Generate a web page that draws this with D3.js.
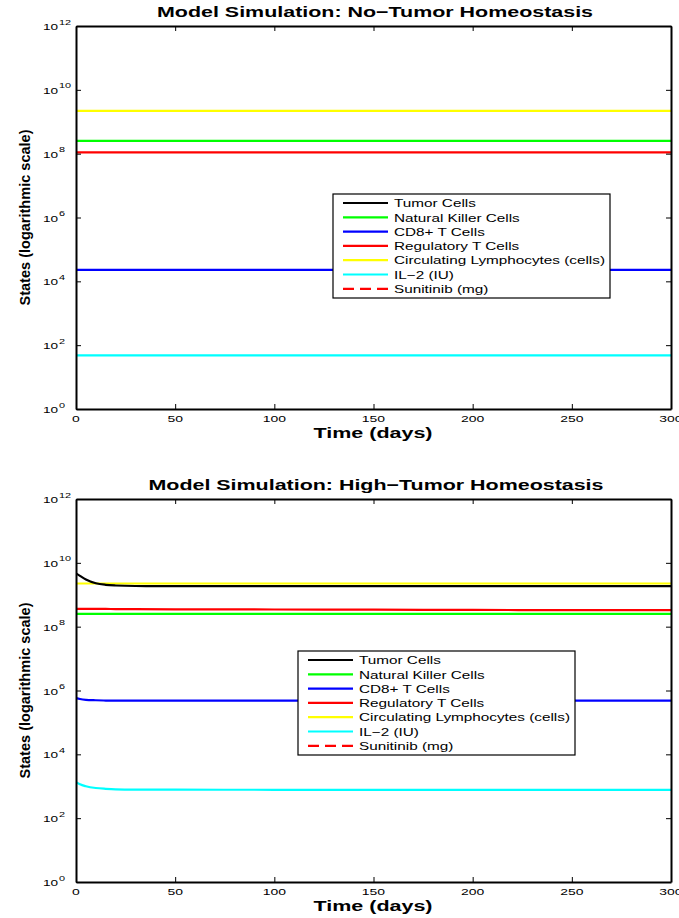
<!DOCTYPE html>
<html>
<head>
<meta charset="utf-8">
<script src="https://cdn.jsdelivr.net/npm/d3@7"></script>
<style>
  body { margin: 0; background: #fff; }
  text { font-family: "Liberation Sans", Arial, Helvetica, sans-serif; fill: #000; }
</style>
</head>
<body>
<svg id="chart" width="679" height="918"></svg>
<script>
// time points (days)
var days = [0, 2, 5, 10, 15, 20, 30, 50, 100, 150, 200, 250, 300];
var xTicks = [0, 50, 100, 150, 200, 250, 300];
var yExponents = [0, 2, 4, 6, 8, 10, 12];

var seriesNames = ["Tumor Cells", "Natural Killer Cells", "CD8+ T Cells", "Regulatory T Cells",
                   "Circulating Lymphocytes (cells)", "IL\u22122 (IU)", "Sunitinib (mg)"];
var seriesColors = ["#000000", "#00ff00", "#0000ff", "#ff0000", "#ffff00", "#00ffff", "#ff0000"];

// no-tumor homeostasis (tumor and drug are zero -> not shown on log axis)
var noTumor = [
  [0, 0, 0, 0, 0, 0, 0, 0, 0, 0, 0, 0, 0],
  [2.5e8, 2.5e8, 2.5e8, 2.5e8, 2.5e8, 2.5e8, 2.5e8, 2.5e8, 2.5e8, 2.5e8, 2.5e8, 2.5e8, 2.5e8],
  [2.3e4, 2.3e4, 2.3e4, 2.3e4, 2.3e4, 2.3e4, 2.3e4, 2.3e4, 2.3e4, 2.3e4, 2.3e4, 2.3e4, 2.3e4],
  [1.1e8, 1.1e8, 1.1e8, 1.1e8, 1.1e8, 1.1e8, 1.1e8, 1.1e8, 1.1e8, 1.1e8, 1.1e8, 1.1e8, 1.1e8],
  [2.2e9, 2.2e9, 2.2e9, 2.2e9, 2.2e9, 2.2e9, 2.2e9, 2.2e9, 2.2e9, 2.2e9, 2.2e9, 2.2e9, 2.2e9],
  [48, 48, 48, 48, 48, 48, 48, 48, 48, 48, 48, 48, 48],
  [0, 0, 0, 0, 0, 0, 0, 0, 0, 0, 0, 0, 0]
];

// high-tumor homeostasis
var highTumor = [
  [4.7e9, 3.9e9, 3.0e9, 2.3e9, 2.05e9, 1.95e9, 1.88e9, 1.86e9, 1.85e9, 1.85e9, 1.85e9, 1.85e9, 1.85e9],
  [2.5e8, 2.5e8, 2.5e8, 2.5e8, 2.5e8, 2.5e8, 2.5e8, 2.5e8, 2.5e8, 2.5e8, 2.5e8, 2.5e8, 2.5e8],
  [5.8e5, 5.4e5, 5.1e5, 4.95e5, 4.85e5, 4.8e5, 4.8e5, 4.8e5, 4.8e5, 4.8e5, 4.8e5, 4.8e5, 4.8e5],
  [3.6e8, 3.6e8, 3.6e8, 3.6e8, 3.6e8, 3.55e8, 3.55e8, 3.5e8, 3.45e8, 3.4e8, 3.35e8, 3.3e8, 3.3e8],
  [2.25e9, 2.25e9, 2.25e9, 2.25e9, 2.25e9, 2.25e9, 2.25e9, 2.25e9, 2.25e9, 2.25e9, 2.25e9, 2.25e9, 2.25e9],
  [1.35e3, 1.15e3, 1.0e3, 880, 830, 800, 785, 780, 775, 775, 775, 775, 775],
  [0, 0, 0, 0, 0, 0, 0, 0, 0, 0, 0, 0, 0]
];

var svg = d3.select("#chart");

// the reference text is wider than the font's natural width: stretch it
function stretch(sel, k) {
    sel.each(function () {
        var w = this.getComputedTextLength();
        d3.select(this).attr("textLength", w * k).attr("lengthAdjust", "spacingAndGlyphs");
    });
}
function natural(size, weight, str) {
    var t = svg.append("text").attr("font-size", size).attr("font-weight", weight).text(str);
    var w = t.node().getComputedTextLength();
    t.remove();
    return w;
}

var tickK = 1.55;
var titleK = 436 / natural(15, "bold", "Model Simulation: No\u2212Tumor Homeostasis");
var xlabK = 119 / natural(14, "bold", "Time (days)");
var legK = 211 / natural(11.5, "normal", "Circulating Lymphocytes (cells)");

function drawPanel(opts) {
    var left = 76, right = 671, top = opts.top, bottom = opts.bottom;
    var g = svg.append("g");

    var x = d3.scaleLinear().domain([0, 300]).range([left, right]);
    var y = d3.scaleLog().domain([1, 1e12]).range([bottom, top]);

    var clipId = "clip" + opts.id;
    g.append("clipPath").attr("id", clipId)
        .append("rect").attr("x", left).attr("y", top)
        .attr("width", right - left).attr("height", bottom - top);

    var line = d3.line()
        .defined(function (d) { return d.v > 0; })
        .x(function (d) { return x(d.t); })
        .y(function (d) { return y(d.v); })
        .curve(d3.curveMonotoneX);

    var order = [5, 2, 3, 1, 4, 0, 6]; // draw order, tumor above yellow
    order.forEach(function (i) {
        var pts = days.map(function (t, k) { return { t: t, v: opts.data[i][k] }; });
        g.append("path")
            .attr("clip-path", "url(#" + clipId + ")")
            .attr("d", line(pts))
            .attr("fill", "none")
            .attr("stroke", seriesColors[i])
            .attr("stroke-width", 2.2)
            .attr("stroke-dasharray", i === 6 ? "11,6" : null);
    });

    var yVals = yExponents.map(function (e) { return Math.pow(10, e); });

    // axes: inward ticks, box on all four sides, labels drawn separately
    var axB = g.append("g").attr("transform", "translate(0," + bottom + ")")
        .call(d3.axisBottom(x).tickValues(xTicks).tickSizeInner(-5).tickSizeOuter(0).tickFormat(""));
    var axT = g.append("g").attr("transform", "translate(0," + top + ")")
        .call(d3.axisTop(x).tickValues(xTicks).tickSizeInner(-5).tickSizeOuter(0).tickFormat(""));
    var axL = g.append("g").attr("transform", "translate(" + left + ",0)")
        .call(d3.axisLeft(y).tickValues(yVals).tickSizeInner(-5).tickSizeOuter(0).tickFormat(""));
    var axR = g.append("g").attr("transform", "translate(" + right + ",0)")
        .call(d3.axisRight(y).tickValues(yVals).tickSizeInner(-5).tickSizeOuter(0).tickFormat(""));

    [axB, axT, axL, axR].forEach(function (a) {
        a.select(".domain").attr("stroke", "#000").attr("stroke-width", 2);
        a.selectAll(".tick line").attr("stroke", "#000").attr("stroke-width", 1);
        a.selectAll(".tick text").remove();
    });

    // x tick labels
    var xl = g.append("g").selectAll("text").data(xTicks).enter().append("text")
        .attr("x", function (d) { return x(d); })
        .attr("y", bottom + 12.8)
        .attr("text-anchor", "middle")
        .attr("font-size", 9)
        .text(function (d) { return d; });
    stretch(xl, tickK);

    // y tick labels: 10 with superscript exponent
    var yl = g.append("g").selectAll("g").data(yExponents).enter().append("g");
    var base = yl.append("text")
        .attr("x", 43).attr("y", function (e) { return y(Math.pow(10, e)) + 4; })
        .attr("font-size", 8.5)
        .text("10");
    var sup = yl.append("text")
        .attr("x", 59).attr("y", function (e) { return y(Math.pow(10, e)) - 1.5; })
        .attr("font-size", 7)
        .text(function (e) { return e; });
    stretch(base, 1.6);
    stretch(sup, 1.55);

    // title and axis labels
    var title = g.append("text")
        .attr("x", opts.titleX).attr("y", opts.titleY)
        .attr("text-anchor", "middle")
        .attr("font-size", 15).attr("font-weight", "bold")
        .text(opts.title);
    stretch(title, titleK);
    var xlab = g.append("text")
        .attr("x", 373).attr("y", bottom + 28.5)
        .attr("text-anchor", "middle")
        .attr("font-size", 14).attr("font-weight", "bold")
        .text("Time (days)");
    stretch(xlab, xlabK);
    g.append("text")
        .attr("transform", "translate(30," + ((top + bottom) / 2) + ") rotate(-90)")
        .attr("text-anchor", "middle")
        .attr("font-size", 14).attr("font-weight", "bold")
        .attr("textLength", 176).attr("lengthAdjust", "spacingAndGlyphs")
        .text("States (logarithmic scale)");

    // legend
    var lg = g.append("g").attr("transform", "translate(" + opts.legX + "," + opts.legY + ")");
    lg.append("rect")
        .attr("x", 0).attr("y", 0).attr("width", 277).attr("height", 104)
        .attr("fill", "#fff").attr("stroke", "#000").attr("stroke-width", 1.2);
    seriesNames.forEach(function (name, i) {
        var yy = 9 + i * 14.3;
        lg.append("line")
            .attr("x1", 10).attr("x2", 55).attr("y1", yy).attr("y2", yy)
            .attr("stroke", seriesColors[i]).attr("stroke-width", 2.2)
            .attr("stroke-dasharray", i === 6 ? "11,6" : null);
        var t = lg.append("text")
            .attr("x", 61).attr("y", yy + 4.2)
            .attr("font-size", 11.5)
            .text(name);
        stretch(t, legK);
    });
}

drawPanel({ id: 1, top: 26, bottom: 409, data: noTumor, titleX: 375, titleY: 17,
            title: "Model Simulation: No\u2212Tumor Homeostasis", legX: 333, legY: 194 });
drawPanel({ id: 2, top: 499, bottom: 882, data: highTumor, titleX: 376, titleY: 490,
            title: "Model Simulation: High\u2212Tumor Homeostasis", legX: 298, legY: 651 });
</script>
</body>
</html>
